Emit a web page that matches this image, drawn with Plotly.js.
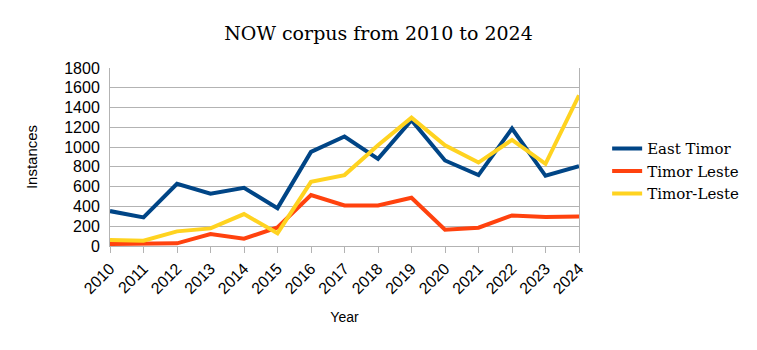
<!DOCTYPE html>
<html><head><meta charset="utf-8">
<script src="https://cdn.plot.ly/plotly-3.0.1.min.js"></script>
<style>html,body{margin:0;padding:0;background:#fff}#c{width:757px;height:350px}</style>
</head><body><div id="c"></div>
<script>
const years = ["2010","2011","2012","2013","2014","2015","2016","2017","2018","2019","2020","2021","2022","2023","2024"];
const eastTimor = [353,289,629,528,589,383,952,1107,881,1272,865,717,1188,710,807];
const timorLeste = [20,24,27,121,74,188,515,410,410,488,165,185,309,293,299];
const timorHyphenLeste = [61,54,148,178,323,128,649,717,1019,1298,1019,844,1073,831,1524];
const yTicks = [0,200,400,600,800,1000,1200,1400,1600,1800];

const mk = (name, y, color) => ({type:'scatter', mode:'lines', name, x:years, y,
  line:{color, width:4, shape:'linear'}});
const data = [
  mk('East Timor', eastTimor, '#004586'),
  mk('Timor Leste', timorLeste, '#ff420e'),
  mk('Timor-Leste', timorHyphenLeste, '#ffd320')
];
const layout = {
  width:757, height:350, paper_bgcolor:'#fff', plot_bgcolor:'#fff',
  margin:{l:110, r:178, t:68, b:104},
  title:{text:'NOW corpus from 2010 to 2024', font:{family:'DejaVu Serif', size:19, color:'#000'}, x:0.5, xanchor:'center', y:0.905, yanchor:'middle'},
  xaxis:{type:'category', tickangle:-45, tickfont:{family:'Liberation Sans', size:16, color:'#000'},
    showgrid:false, showline:true, linecolor:'#b3b3b3', linewidth:1, ticks:'outside', ticklen:6, tickcolor:'#b3b3b3',
    range:[0,14],
    title:{text:'Year', font:{family:'Liberation Sans', size:14, color:'#000'}, standoff:16}},
  yaxis:{range:[0,1800], tickvals:yTicks, tickfont:{family:'Liberation Sans', size:16, color:'#000'},
    showgrid:true, gridcolor:'#b3b3b3', gridwidth:1, showline:true, linecolor:'#b3b3b3', mirror:true, zeroline:false,
    ticks:'', ticklabelstandoff:6,
    title:{text:'Instances', font:{family:'Liberation Sans', size:15, color:'#000'}, standoff:22}},
  legend:{x:1.06, y:0.42, xanchor:'left', yanchor:'middle', font:{family:'DejaVu Serif', size:15, color:'#000'},
    bgcolor:'rgba(0,0,0,0)', tracegroupgap:0},
  showlegend:true
};
Plotly.newPlot('c', data, layout, {displayModeBar:false, staticPlot:true});
</script></body></html>
